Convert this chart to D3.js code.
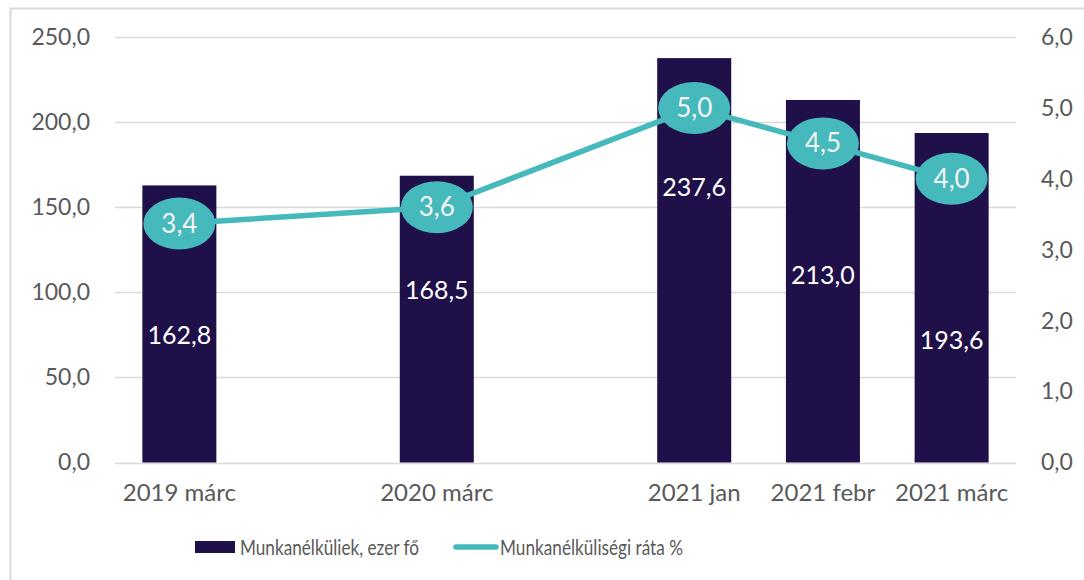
<!DOCTYPE html>
<html>
<head>
<meta charset="utf-8">
<script src="https://cdn.jsdelivr.net/npm/d3@7"></script>
<style>
  body { margin: 0; background: #fff; }
  svg { display: block; font-family: Lato, "Noto Sans", sans-serif; }
</style>
</head>
<body>
<script>
const width = 1084;
const height = 580;

// data
const slots = ['2019 márc', 'gap1', '2020 márc', 'gap2', '2021 jan', '2021 febr', '2021 márc'];
const categories = ['2019 márc', '2020 márc', '2021 jan', '2021 febr', '2021 márc'];
const unemployed = [162.8, 168.5, 237.6, 213.0, 193.6];
const rate = [3.37, 3.6, 5.0, 4.5, 4.0];
const leftTicks = [0, 50, 100, 150, 200, 250];
const rightTicks = [0, 1, 2, 3, 4, 5, 6];
const seriesNames = ['Munkanélküliek, ezer fő', 'Munkanélküliségi ráta %'];

// where the bar value labels sit (left axis units)
const barLabelAt = [75, 101, 162, 110, 72];

const barColor = '#20104a';
const lineColor = '#45b9bb';
const textColor = '#595959';

const plot = { left: 115, right: 1016, top: 37, bottom: 462.5 };

const fmt = v => d3.format('.1f')(v).replace('.', ',');

const svg = d3.select('body').append('svg').attr('width', width).attr('height', height);

// frame
svg.append('rect')
  .attr('x', 10.5).attr('y', 8.5)
  .attr('width', 1200).attr('height', 700)
  .attr('fill', 'none').attr('stroke', '#d9d9d9').attr('stroke-width', 2);

const x = d3.scaleBand()
  .domain(slots)
  .range([plot.left, plot.right])
  .paddingInner(0.425)
  .paddingOuter(0.2125);

const yLeft = d3.scaleLinear().domain([0, 250]).range([plot.bottom, plot.top]);
const yRight = d3.scaleLinear().domain([0, 6]).range([plot.bottom, plot.top]);

// gridlines
svg.append('g')
  .selectAll('line')
  .data(leftTicks)
  .join('line')
  .attr('x1', plot.left).attr('x2', plot.right)
  .attr('y1', d => Math.round(yLeft(d)) + 0.5)
  .attr('y2', d => Math.round(yLeft(d)) + 0.5)
  .attr('stroke', '#d9d9d9').attr('stroke-width', 1.5);

// left axis
const leftAxis = svg.append('g')
  .attr('transform', `translate(${plot.left},0)`)
  .call(d3.axisLeft(yLeft).tickValues(leftTicks).tickFormat(fmt).tickSize(0).tickPadding(25));
leftAxis.select('.domain').remove();
leftAxis.selectAll('text').attr('fill', textColor).style('font-size', '23px').style('font-family', 'Lato');

// right axis
const rightAxis = svg.append('g')
  .attr('transform', `translate(${plot.right},0)`)
  .call(d3.axisRight(yRight).tickValues(rightTicks).tickFormat(fmt).tickSize(0).tickPadding(25));
rightAxis.select('.domain').remove();
rightAxis.selectAll('text').attr('fill', textColor).style('font-size', '23px').style('font-family', 'Lato');

// bottom axis
const bottomAxis = svg.append('g')
  .attr('transform', `translate(0,${plot.bottom})`)
  .call(d3.axisBottom(x).tickValues(categories).tickSize(0).tickPadding(21));
bottomAxis.select('.domain').remove();
bottomAxis.selectAll('text').attr('fill', textColor).style('font-size', '24px').style('font-family', 'Lato');

const rows = categories.map((c, i) => ({ c, v: unemployed[i], r: rate[i], lab: barLabelAt[i] }));

// bars
svg.append('g')
  .selectAll('rect')
  .data(rows)
  .join('rect')
  .attr('x', d => x(d.c))
  .attr('width', x.bandwidth())
  .attr('y', d => yLeft(d.v))
  .attr('height', d => yLeft(0) - yLeft(d.v))
  .attr('fill', barColor);

// bar value labels
svg.append('g')
  .selectAll('text')
  .data(rows)
  .join('text')
  .attr('x', d => x(d.c) + x.bandwidth() / 2)
  .attr('y', d => yLeft(d.lab))
  .attr('dy', '0.35em')
  .attr('text-anchor', 'middle')
  .attr('fill', '#fff')
  .style('font-size', '25px')
  .text(d => fmt(d.v));

// rate line
const line = d3.line()
  .x(d => x(d.c) + x.bandwidth() / 2)
  .y(d => yRight(d.r));

svg.append('path')
  .datum(rows)
  .attr('d', line)
  .attr('fill', 'none')
  .attr('stroke', lineColor)
  .attr('stroke-width', 5.5)
  .attr('stroke-linejoin', 'round');

const markers = svg.append('g')
  .selectAll('g')
  .data(rows)
  .join('g')
  .attr('transform', d => `translate(${x(d.c) + x.bandwidth() / 2},${yRight(d.r)})`);

markers.append('ellipse')
  .attr('rx', 36).attr('ry', 26)
  .attr('fill', lineColor);

markers.append('text')
  .attr('dy', '0.35em')
  .attr('text-anchor', 'middle')
  .attr('fill', '#f4f4f4')
  .style('font-size', '26px')
  .text(d => fmt(d.r));

// legend
const legend = svg.append('g').attr('transform', 'translate(0,547)');

legend.append('rect')
  .attr('x', 195).attr('y', -6)
  .attr('width', 40).attr('height', 12)
  .attr('fill', barColor);

legend.append('text')
  .attr('x', 240).attr('dy', '0.35em')
  .attr('fill', textColor).style('font-size', '22px')
  .attr('textLength', 179).attr('lengthAdjust', 'spacingAndGlyphs')
  .text(seriesNames[0]);

legend.append('line')
  .attr('x1', 456).attr('x2', 496)
  .attr('stroke', lineColor).attr('stroke-width', 5.5)
  .attr('stroke-linecap', 'round');

legend.append('text')
  .attr('x', 500).attr('dy', '0.35em')
  .attr('fill', textColor).style('font-size', '22px')
  .attr('textLength', 183).attr('lengthAdjust', 'spacingAndGlyphs')
  .text(seriesNames[1]);
</script>
</body>
</html>
